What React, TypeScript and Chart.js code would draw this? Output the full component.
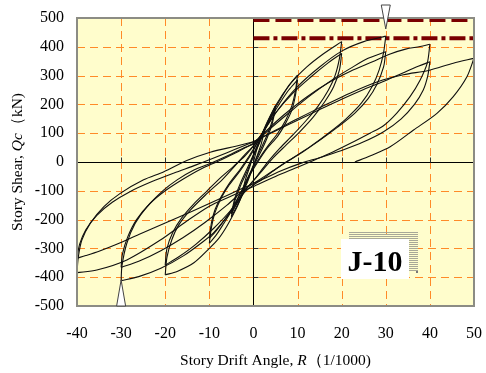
import React, { useEffect, useRef } from "react";
import { Chart, registerables } from "chart.js";

Chart.register(...registerables);

// Axis ranges and ticks
const xRange = [-40, 50];
const yRange = [-500, 500];
const xStep = 10;
const yStep = 100;

// Reference levels (dark red lines) drawn from R = 0 to R = 50
const refSpan = [0, 50];
const refDashedLevel = 493;
const refDashDotLevel = 430;

// Markers (triangles) at drift angles
const topMarkerX = 30;
const bottomMarkerX = -30;

const specimenLabel = "J-10";

// Hysteresis cycles [R (1/1000), Qc (kN)]
const cycle25 = [[0, 0], [1, 55], [2.5, 110], [1.8, 65], [0.8, 20], [-0.5, -35], [-1.5, -75], [-2.5, -105], [-1.8, -60], [-0.8, -15], [0, 25]];
const cycle5a = [[0, 25], [1.5, 80], [3, 135], [5, 195], [4.2, 140], [3, 90], [1.5, 40], [0, -10], [-1.5, -70], [-3, -130], [-5, -190], [-4.2, -135], [-3, -85], [-1.5, -35], [0, 20]];
const cycle5b = [[0, 20], [1.5, 70], [3, 125], [5, 185], [4.2, 130], [3, 80], [1.5, 30], [0, -15], [-1.5, -65], [-3, -120], [-5, -180], [-4.2, -125], [-3, -75], [-1.5, -25], [0, 25]];
const cycle10a = [[0, 25], [2, 95], [4, 160], [6, 215], [8, 265], [10, 302], [9.5, 245], [8.7, 195], [7.3, 145], [5.5, 100], [3, 50], [1, 5], [-1, -45], [-3, -110], [-5, -170], [-7, -220], [-8.5, -255], [-10, -282], [-9.5, -225], [-8.7, -175], [-7.3, -125], [-5.5, -80], [-3, -30], [-1, 15], [0, 40]];
const cycle10b = [[0, 40], [2, 100], [4, 155], [6, 205], [8, 250], [10, 285], [9.5, 230], [8.7, 180], [7.3, 135], [5.5, 90], [3, 45], [1, 0], [-1, -50], [-3, -110], [-5, -165], [-7, -210], [-8.5, -240], [-10, -265], [-9.5, -210], [-8.7, -165], [-7.3, -120], [-5.5, -75], [-3, -25], [-1, 20], [0, 45]];
const cycle20a = [[0, 45], [2, 100], [5, 195], [8.3, 270], [12.1, 330], [15.8, 375], [20, 418], [19.5, 360], [18.5, 300], [17, 250], [14.7, 195], [12, 145], [9, 95], [6, 48], [3.5, 5], [1.5, -35], [0, -65], [-2, -100], [-4, -165], [-6, -222], [-8, -268], [-10, -300], [-13.5, -350], [-17.3, -380], [-20, -392], [-19.6, -330], [-18.5, -270], [-17, -220], [-14.3, -167], [-10.5, -109], [-7, -60], [-4, -10], [-2, 25], [0, 55]];
const cycle20b = [[0, 55], [2, 100], [5, 170], [9, 240], [13, 295], [17, 345], [20, 377], [19.5, 320], [18.2, 262], [16.2, 210], [13.5, 155], [10.5, 105], [7.5, 60], [4.5, 15], [2, -30], [0, -65], [-2, -100], [-5, -165], [-9, -230], [-13, -285], [-17, -330], [-20, -358], [-19.6, -300], [-18.3, -245], [-16.3, -195], [-13.5, -145], [-10.5, -100], [-7.5, -55], [-4.5, -15], [-2, 20], [0, 55]];
const cycle30a = [[0, 55], [2, 100], [6, 190], [10, 262], [15, 330], [20, 385], [25, 418], [30, 437], [29.5, 380], [28.5, 320], [27, 265], [24.5, 205], [21, 150], [17, 100], [13, 55], [9, 15], [5, -25], [2, -60], [0, -80], [-2, -105], [-4, -150], [-6.5, -200], [-9, -245], [-11.3, -275], [-15.8, -325], [-21, -369], [-26, -398], [-30, -412], [-29.8, -360], [-28.7, -282], [-26.8, -213], [-24.1, -155], [-20.3, -97], [-17.3, -62], [-13.5, -28], [-9.8, -5], [-5, 28], [-2, 50], [0, 62]];
const cycle30b = [[0, 62], [3, 105], [8, 170], [13, 232], [18, 287], [22, 325], [26, 360], [30, 383], [29.5, 330], [28, 270], [26, 220], [23, 170], [19, 120], [15, 75], [11, 33], [8, 5], [4, -35], [1, -65], [-2, -95], [-6, -150], [-11, -210], [-16, -263], [-21, -308], [-26, -345], [-30, -366], [-29.7, -320], [-28.5, -260], [-26.5, -200], [-23.5, -145], [-20, -100], [-16, -60], [-12, -25], [-8, 3], [-4, 32], [0, 65]];
const cycle40a = [[0, 65], [3, 110], [7, 165], [12, 225], [17, 275], [22, 315], [27, 348], [31, 375], [34.5, 392], [37.8, 401], [40, 409], [39.4, 343], [37.8, 285], [35.5, 227], [32.5, 170], [29.4, 125], [26.4, 100], [22, 65], [18, 35], [14, 8], [10, -18], [5, -50], [1, -78], [-2, -98], [-6, -125], [-9.8, -152], [-15.1, -205], [-21.1, -271], [-28.7, -340], [-35.5, -375], [-40, -384], [-39.7, -330], [-38.9, -271], [-37, -213], [-33.9, -155], [-30.2, -109], [-24.9, -62], [-20.3, -34], [-15.1, 5], [-9.8, 34], [-4, 55], [0, 70]];
const cycle40b = [[0, 70], [5, 108], [10, 145], [15, 182], [20, 218], [25, 252], [30, 283], [34, 310], [37.5, 333], [40, 348], [39.5, 298], [38.5, 250], [36.5, 200], [33.5, 150], [29.5, 105], [25, 70], [20, 40], [15, 15], [11, -3], [6, -32], [1, -68], [-3, -95], [-8, -130], [-14, -172], [-20, -212], [-26, -252], [-31, -286], [-35, -310], [-38, -325], [-40, -334], [-39.4, -285], [-38, -235], [-35.5, -185], [-32, -140], [-28, -103], [-23, -68], [-18, -38], [-13, -10], [-8, 20], [-4, 45], [0, 70]];
const cycle50 = [[0, 70], [5, 110], [10, 150], [16, 196], [22, 240], [28, 278], [34, 303], [39.7, 318], [45.3, 343], [50, 360], [48.4, 296], [45.3, 227], [41.6, 169], [36.3, 111], [31, 53], [26.4, 21], [23, 0]];

const cycles = [cycle25, cycle5a, cycle5b, cycle10a, cycle10b, cycle20a, cycle20b, cycle30a, cycle30b, cycle40a, cycle40b, cycle50];

// split a cycle at its load reversals so each branch is drawn as its own curve
function splitBranches(pts: number[][]) {
  const out: number[][][] = [];
  let cur: number[][] = [pts[0]];
  for (let i = 1; i < pts.length; i++) {
    cur.push(pts[i]);
    if (i < pts.length - 1) {
      const d1 = pts[i][0] - pts[i - 1][0];
      const d2 = pts[i + 1][0] - pts[i][0];
      if (d1 * d2 < 0) {
        out.push(cur);
        cur = [pts[i]];
      }
    }
  }
  out.push(cur);
  return out;
}

const SERIF = "'Liberation Serif', 'Times New Roman', serif";
const TITLE_SIZE = 15.5;

const decorPlugin = {
  id: "decor",
  beforeDatasetsDraw(chart: any) {
    const { ctx, chartArea: ca, scales } = chart;
    const xs = scales.x;
    const ys = scales.y;
    ctx.save();
    ctx.fillStyle = "#FFFDCC";
    ctx.fillRect(ca.left, ca.top, ca.right - ca.left, ca.bottom - ca.top);
    ctx.strokeStyle = "#FF8A28";
    ctx.lineWidth = 1;
    ctx.setLineDash([8, 5]);
    xs.ticks.forEach((t: any) => {
      if (t.value === 0 || t.value === xRange[0] || t.value === xRange[1]) return;
      const px = Math.round(xs.getPixelForValue(t.value)) + 0.5;
      ctx.beginPath();
      ctx.moveTo(px, ca.top);
      ctx.lineTo(px, ca.bottom);
      ctx.stroke();
    });
    ys.ticks.forEach((t: any) => {
      if (t.value === 0 || t.value === yRange[0] || t.value === yRange[1]) return;
      const py = Math.round(ys.getPixelForValue(t.value)) + 0.5;
      ctx.beginPath();
      ctx.moveTo(ca.left, py);
      ctx.lineTo(ca.right, py);
      ctx.stroke();
    });
    ctx.setLineDash([]);
    ctx.strokeStyle = "#000";
    const x0 = Math.round(xs.getPixelForValue(0)) + 0.5;
    const y0 = Math.round(ys.getPixelForValue(0)) + 0.5;
    ctx.beginPath();
    ctx.moveTo(x0, ca.top);
    ctx.lineTo(x0, ca.bottom);
    ctx.moveTo(ca.left, y0);
    ctx.lineTo(ca.right, y0);
    ctx.stroke();
    // small tick marks on the zero axes
    ctx.strokeStyle = "#333";
    ys.ticks.forEach((t: any) => {
      const py = Math.round(ys.getPixelForValue(t.value)) + 0.5;
      ctx.beginPath();
      ctx.moveTo(x0, py);
      ctx.lineTo(x0 + 5, py);
      ctx.stroke();
    });
    xs.ticks.forEach((t: any) => {
      const px = Math.round(xs.getPixelForValue(t.value)) + 0.5;
      ctx.beginPath();
      ctx.moveTo(px, y0);
      ctx.lineTo(px, y0 - 5);
      ctx.stroke();
    });
    ctx.restore();
  },
  afterDatasetsDraw(chart: any) {
    const { ctx, chartArea: ca, scales } = chart;
    const xs = scales.x;
    ctx.save();
    // plot border
    ctx.strokeStyle = "#8C8C84";
    ctx.lineWidth = 2;
    ctx.strokeRect(ca.left, ca.top, ca.right - ca.left, ca.bottom - ca.top);

    // label with striped shadow
    const bx = ca.left + 264;
    const by = ca.top + 221;
    const bw = 68;
    const bh = 40;
    ctx.fillStyle = "#A8A898";
    for (let yy = by - 7; yy < by + bh - 7; yy += 2) {
      ctx.fillRect(bx + 8, yy, bw + 1, 1);
    }
    ctx.fillStyle = "#777";
    ctx.fillRect(bx + bw + 7, by + bh - 8, 2, 2);
    ctx.fillStyle = "#FFFFFF";
    ctx.fillRect(bx, by, bw, bh);
    ctx.fillStyle = "#000";
    ctx.font = `bold 30px ${SERIF}`;
    ctx.textAlign = "center";
    ctx.textBaseline = "alphabetic";
    ctx.fillText(specimenLabel, bx + bw / 2, by + 32);

    // triangles
    ctx.lineWidth = 1;
    ctx.strokeStyle = "#444";
    ctx.fillStyle = "#FFFFFF";
    const tx = xs.getPixelForValue(topMarkerX);
    ctx.beginPath();
    ctx.moveTo(tx - 4.5, ca.top - 13);
    ctx.lineTo(tx + 4.5, ca.top - 13);
    ctx.lineTo(tx, ca.top + 11);
    ctx.closePath();
    ctx.fill();
    ctx.stroke();
    const bxp = xs.getPixelForValue(bottomMarkerX);
    ctx.beginPath();
    ctx.moveTo(bxp, ca.bottom - 26);
    ctx.lineTo(bxp + 4.5, ca.bottom);
    ctx.lineTo(bxp - 4.5, ca.bottom);
    ctx.closePath();
    ctx.fill();
    ctx.stroke();
    ctx.restore();
  },
  afterDraw(chart: any) {
    const { ctx, chartArea: ca } = chart;
    const drawParts = (parts: [string, boolean][], cx: number, cy: number) => {
      let total = 0;
      const widths = parts.map(([t, it]) => {
        ctx.font = `${it ? "italic " : ""}${TITLE_SIZE}px ${SERIF}`;
        const w = ctx.measureText(t).width;
        total += w;
        return w;
      });
      let xx = cx - total / 2;
      parts.forEach(([t, it], i) => {
        ctx.font = `${it ? "italic " : ""}${TITLE_SIZE}px ${SERIF}`;
        ctx.fillText(t, xx, cy);
        xx += widths[i];
      });
    };
    ctx.save();
    ctx.fillStyle = "#000";
    ctx.textAlign = "left";
    ctx.textBaseline = "middle";
    drawParts([["Story Drift Angle, ", false], ["R", true], ["（1/1000)", false]], (ca.left + ca.right) / 2, ca.bottom + 55);
    ctx.translate(18, (ca.top + ca.bottom) / 2);
    ctx.rotate(-Math.PI / 2);
    drawParts([["Story Shear, ", false], ["Qc", true], ["（kN)", false]], 0, 0);
    ctx.restore();
  },
};

export default function App() {
  const canvasRef = useRef<HTMLCanvasElement | null>(null);

  useEffect(() => {
    if (!canvasRef.current) return;
    const datasets: any[] = [];
    cycles.forEach((c) => {
      splitBranches(c).forEach((b) => {
        datasets.push({
          data: b.map(([x, y]) => ({ x, y })),
          showLine: true,
          borderColor: "#101010",
          borderWidth: 1.1,
          pointRadius: 0,
          tension: 0.3,
          fill: false,
        });
      });
    });
    datasets.push({
      data: refSpan.map((x) => ({ x, y: refDashedLevel })),
      showLine: true,
      borderColor: "#7A0000",
      borderWidth: 4,
      borderDash: [16, 6],
      pointRadius: 0,
    });
    datasets.push({
      data: refSpan.map((x) => ({ x, y: refDashDotLevel })),
      showLine: true,
      borderColor: "#7A0000",
      borderWidth: 4,
      borderDash: [16, 4, 4, 4],
      pointRadius: 0,
    });

    const chart = new Chart(canvasRef.current, {
      type: "scatter",
      data: { datasets },
      options: {
        animation: false,
        responsive: false,
        maintainAspectRatio: false,
        layout: { padding: { left: 0, top: 18, right: 12, bottom: 0 } },
        plugins: { legend: { display: false }, tooltip: { enabled: false } },
        scales: {
          x: {
            type: "linear",
            min: xRange[0],
            max: xRange[1],
            grid: { display: false },
            border: { display: false },
            ticks: {
              stepSize: xStep,
              color: "#000",
              padding: 10,
              font: { family: SERIF, size: 16 },
              maxRotation: 0,
            },
            afterFit: (s: any) => {
              s.height = 67;
              s.paddingLeft = 0;
              s.paddingRight = 0;
            },
          },
          y: {
            type: "linear",
            min: yRange[0],
            max: yRange[1],
            grid: { display: false },
            border: { display: false },
            ticks: {
              stepSize: yStep,
              color: "#000",
              padding: 5,
              font: { family: SERIF, size: 16 },
            },
            afterFit: (s: any) => {
              s.width = 77;
              s.paddingTop = 0;
              s.paddingBottom = 0;
            },
          },
        },
      },
      plugins: [decorPlugin],
    });
    return () => chart.destroy();
  }, []);

  return (
    <div style={{ position: "absolute", left: 0, top: 0, width: 486, height: 373, background: "#fff" }}>
      <canvas ref={canvasRef} width={486} height={373} style={{ display: "block" }} />
    </div>
  );
}
